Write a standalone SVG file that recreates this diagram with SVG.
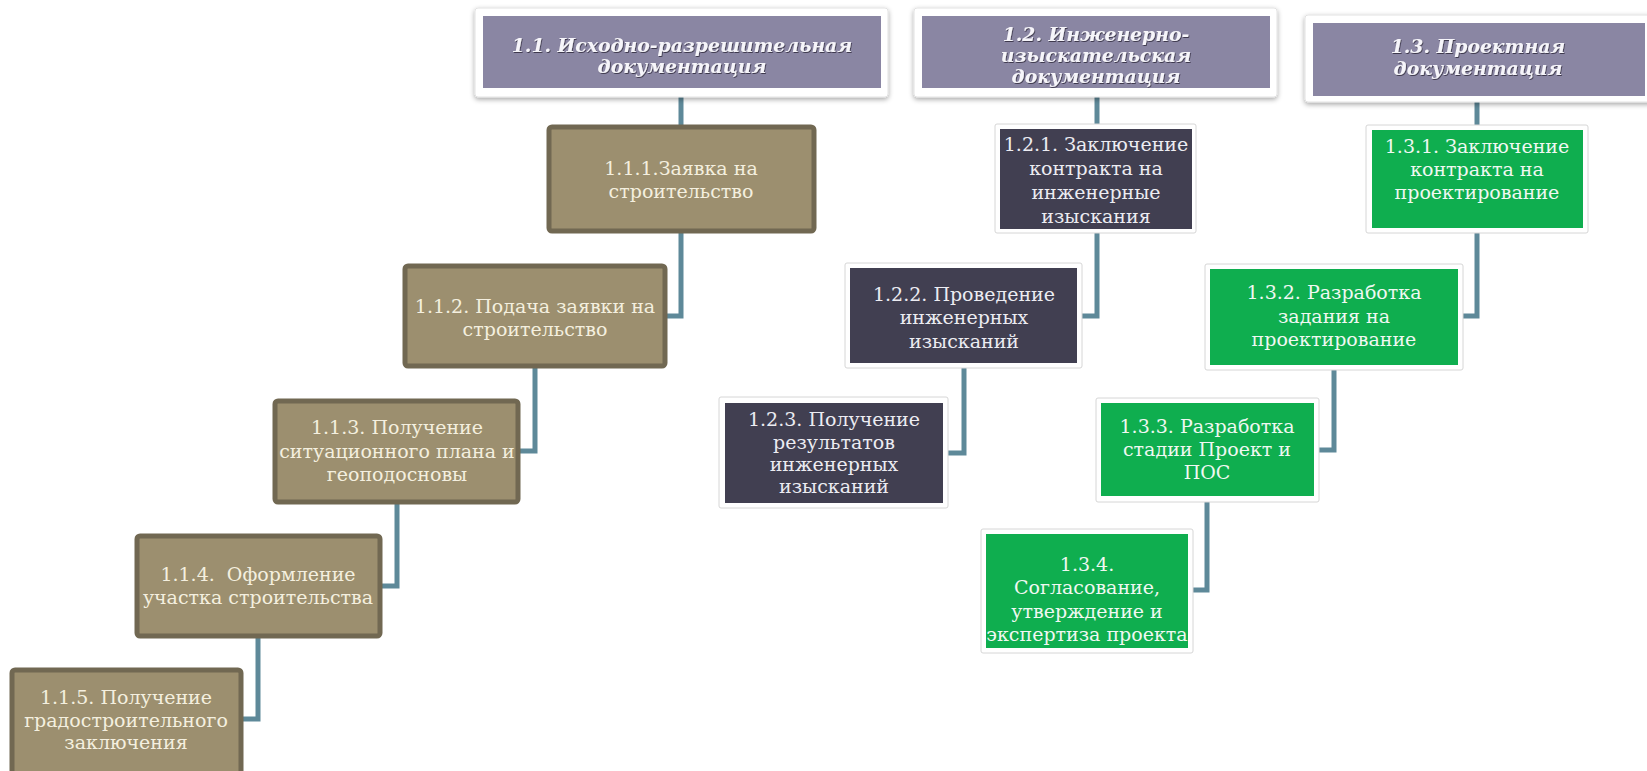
<svg xmlns="http://www.w3.org/2000/svg" width="1647" height="771" viewBox="0 0 1647 771">
  <defs>
    <filter id="cardShadow" x="-10%" y="-20%" width="120%" height="150%">
      <feDropShadow dx="0" dy="2" stdDeviation="2.5" flood-color="#000" flood-opacity="0.35"/>
    </filter>
    <filter id="textShadow" x="-5%" y="-20%" width="110%" height="150%">
      <feDropShadow dx="0.8" dy="1" stdDeviation="0.6" flood-color="#2a2838" flood-opacity="0.8"/>
    </filter>
  </defs>
  <style>
    .hdr-outer { fill: #ffffff; stroke: #e2e2e2; stroke-width: 1; }
    .hdr-inner { fill: #8a86a3; }
    .hdr-text { font-family: "DejaVu Serif", "Liberation Serif", serif; font-size: 18.8px; font-weight: bold; font-style: italic; fill: #f6f5fa; text-anchor: middle; }
    .tan { fill: #9c8f6f; stroke: #716852; stroke-width: 5; }
    .frame { fill: #ffffff; stroke: #d6d6d6; stroke-width: 1; }
    .dark { fill: #413f51; }
    .green { fill: #0fae4f; }
    .lbl { font-family: "DejaVu Serif", "Liberation Serif", serif; font-size: 19px; text-anchor: middle; }
    .lbl-tan { fill: #f4efdf; }
    .lbl-dark { fill: #ececf2; }
    .lbl-green { fill: #f0f8f2; }
    .conn { fill: none; stroke: #5e8999; stroke-width: 5; stroke-linejoin: miter; }
  </style>

  <!-- connectors -->
  <g id="connectors">
    <path class="conn" d="M681 97 V125"/>
    <path class="conn" d="M681 233 V316 H667"/>
    <path class="conn" d="M535 368 V451 H520"/>
    <path class="conn" d="M397 504 V586 H382"/>
    <path class="conn" d="M258 638 V719 H243"/>
    <path class="conn" d="M1097 97 V124"/>
    <path class="conn" d="M1097 233 V316 H1082"/>
    <path class="conn" d="M964 368 V453 H948"/>
    <path class="conn" d="M1477 102 V125"/>
    <path class="conn" d="M1477 233 V316 H1463"/>
    <path class="conn" d="M1334 370 V450 H1319"/>
    <path class="conn" d="M1207 502 V590 H1193"/>
  </g>

  <!-- column 1.1 -->
  <g id="h11">
    <rect class="hdr-outer" x="475" y="8" width="413" height="89" rx="3" filter="url(#cardShadow)"/>
    <rect class="hdr-inner" x="483" y="16" width="398" height="72"/>
    <text class="hdr-text" x="682" filter="url(#textShadow)"><tspan x="682" y="52">1.1. Исходно-разрешительная</tspan><tspan x="682" y="73">документация</tspan></text>
  </g>
  <g id="n111">
    <rect class="tan" x="549" y="127" width="265" height="104" rx="3"/>
    <text class="lbl lbl-tan"><tspan x="681" y="175">1.1.1.Заявка на</tspan><tspan x="681" y="198">строительство</tspan></text>
  </g>
  <g id="n112">
    <rect class="tan" x="405" y="266" width="260" height="100" rx="3"/>
    <text class="lbl lbl-tan"><tspan x="535" y="313">1.1.2. Подача заявки на</tspan><tspan x="535" y="336">строительство</tspan></text>
  </g>
  <g id="n113">
    <rect class="tan" x="275" y="401" width="243" height="101" rx="3"/>
    <text class="lbl lbl-tan"><tspan x="397" y="434">1.1.3. Получение</tspan><tspan x="397" y="458">ситуационного плана и</tspan><tspan x="397" y="481">геоподосновы</tspan></text>
  </g>
  <g id="n114">
    <rect class="tan" x="137" y="536" width="243" height="100" rx="3"/>
    <text class="lbl lbl-tan" xml:space="preserve"><tspan x="258" y="581">1.1.4.  Оформление</tspan><tspan x="258" y="604">участка строительства</tspan></text>
  </g>
  <g id="n115">
    <rect class="tan" x="12" y="670" width="229" height="104" rx="3"/>
    <text class="lbl lbl-tan"><tspan x="126" y="704">1.1.5. Получение</tspan><tspan x="126" y="727">градостроительного</tspan><tspan x="126" y="749">заключения</tspan></text>
  </g>

  <!-- column 1.2 -->
  <g id="h12">
    <rect class="hdr-outer" x="914" y="8" width="363" height="89" rx="3" filter="url(#cardShadow)"/>
    <rect class="hdr-inner" x="922" y="16" width="348" height="72"/>
    <text class="hdr-text" filter="url(#textShadow)"><tspan x="1096" y="41">1.2. Инженерно-</tspan><tspan x="1096" y="62">изыскательская</tspan><tspan x="1096" y="83">документация</tspan></text>
  </g>
  <g id="n121">
    <rect class="frame" x="995" y="124" width="201" height="109" rx="2"/>
    <rect class="dark" x="1000" y="129" width="192" height="100"/>
    <text class="lbl lbl-dark"><tspan x="1096" y="151">1.2.1. Заключение</tspan><tspan x="1096" y="175">контракта на</tspan><tspan x="1096" y="199">инженерные</tspan><tspan x="1096" y="223">изыскания</tspan></text>
  </g>
  <g id="n122">
    <rect class="frame" x="845" y="263" width="237" height="105" rx="2"/>
    <rect class="dark" x="850" y="268" width="227" height="95"/>
    <text class="lbl lbl-dark"><tspan x="964" y="301">1.2.2. Проведение</tspan><tspan x="964" y="324">инженерных</tspan><tspan x="964" y="348">изысканий</tspan></text>
  </g>
  <g id="n123">
    <rect class="frame" x="719" y="397" width="229" height="111" rx="2"/>
    <rect class="dark" x="725" y="403" width="218" height="100"/>
    <text class="lbl lbl-dark"><tspan x="834" y="426">1.2.3. Получение</tspan><tspan x="834" y="449">результатов</tspan><tspan x="834" y="471">инженерных</tspan><tspan x="834" y="493">изысканий</tspan></text>
  </g>

  <!-- column 1.3 -->
  <g id="h13">
    <rect class="hdr-outer" x="1305" y="15" width="348" height="87" rx="3" filter="url(#cardShadow)"/>
    <rect class="hdr-inner" x="1313" y="23" width="332" height="73"/>
    <text class="hdr-text" filter="url(#textShadow)"><tspan x="1478" y="53">1.3. Проектная</tspan><tspan x="1478" y="75">документация</tspan></text>
  </g>
  <g id="n131">
    <rect class="frame" x="1366" y="125" width="222" height="108" rx="2"/>
    <rect class="green" x="1372" y="130" width="211" height="98"/>
    <text class="lbl lbl-green"><tspan x="1477" y="153">1.3.1. Заключение</tspan><tspan x="1477" y="176">контракта на</tspan><tspan x="1477" y="199">проектирование</tspan></text>
  </g>
  <g id="n132">
    <rect class="frame" x="1205" y="264" width="258" height="106" rx="2"/>
    <rect class="green" x="1210" y="269" width="248" height="96"/>
    <text class="lbl lbl-green"><tspan x="1334" y="299">1.3.2. Разработка</tspan><tspan x="1334" y="323">задания на</tspan><tspan x="1334" y="346">проектирование</tspan></text>
  </g>
  <g id="n133">
    <rect class="frame" x="1096" y="398" width="223" height="104" rx="2"/>
    <rect class="green" x="1101" y="403" width="213" height="93"/>
    <text class="lbl lbl-green"><tspan x="1207" y="433">1.3.3. Разработка</tspan><tspan x="1207" y="456">стадии Проект и</tspan><tspan x="1207" y="479">ПОС</tspan></text>
  </g>
  <g id="n134">
    <rect class="frame" x="981" y="529" width="212" height="124" rx="2"/>
    <rect class="green" x="986" y="534" width="202" height="114"/>
    <text class="lbl lbl-green"><tspan x="1087" y="571">1.3.4.</tspan><tspan x="1087" y="594">Согласование,</tspan><tspan x="1087" y="618">утверждение и</tspan><tspan x="1087" y="641">экспертиза проекта</tspan></text>
  </g>
</svg>
